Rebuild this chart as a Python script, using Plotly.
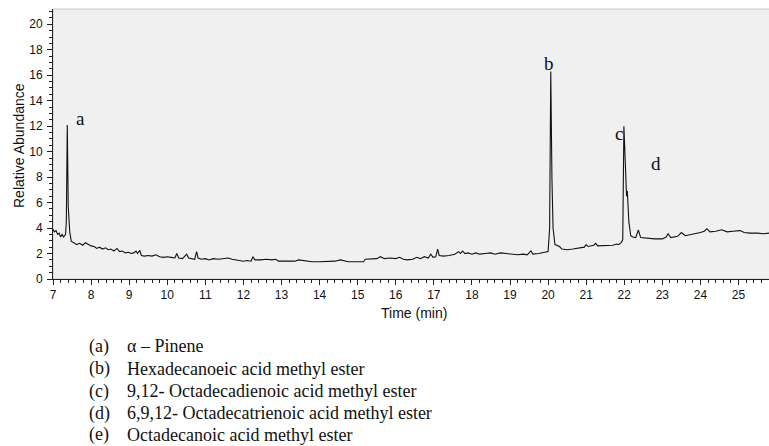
import plotly.graph_objects as go

# ---------------- data ----------------
time_min = [
    7.00, 7.04, 7.08, 7.12, 7.16, 7.20, 7.24, 7.28, 7.33, 7.35, 7.375, 7.40, 7.44, 7.48,
    7.55, 7.62, 7.70, 7.78, 7.85, 7.92, 8.00, 8.08, 8.15, 8.22, 8.30, 8.38, 8.45, 8.52,
    8.60, 8.68, 8.75, 8.82, 8.90, 8.98, 9.05, 9.12, 9.18, 9.22, 9.28, 9.32, 9.40, 9.50,
    9.60, 9.70, 9.80, 9.90, 10.00, 10.10, 10.20, 10.25, 10.30, 10.40, 10.51, 10.56, 10.65,
    10.72, 10.77, 10.81, 10.90, 11.00, 11.10, 11.20, 11.35, 11.50, 11.60, 11.70, 11.80,
    11.90, 12.00, 12.10, 12.20, 12.25, 12.30, 12.45, 12.60, 12.75, 12.85, 12.92, 13.10,
    13.25, 13.35, 13.45, 13.55, 13.65, 13.80, 14.00, 14.20, 14.40, 14.55, 14.65, 14.75,
    15.00, 15.15, 15.20, 15.35, 15.50, 15.60, 15.70, 15.85, 16.00, 16.10, 16.20, 16.30,
    16.45, 16.55, 16.65, 16.75, 16.85, 16.92, 16.98, 17.05, 17.10, 17.14, 17.25, 17.40,
    17.55, 17.65, 17.70, 17.75, 17.82, 17.90, 18.00, 18.10, 18.20, 18.35, 18.50, 18.60,
    18.75, 18.90, 19.05, 19.20, 19.35, 19.45, 19.55, 19.60, 19.75, 19.90, 20.00, 20.04,
    20.07, 20.10, 20.13, 20.18, 20.23, 20.30, 20.36, 20.50, 20.65, 20.80, 20.95, 21.00,
    21.05, 21.20, 21.25, 21.30, 21.50, 21.70, 21.80, 21.85, 21.92, 21.96, 21.99, 22.03,
    22.06, 22.08, 22.12, 22.17, 22.22, 22.30, 22.37, 22.43, 22.59, 22.80, 23.00, 23.10,
    23.15, 23.22, 23.40, 23.50, 23.60, 23.80, 24.00, 24.10, 24.17, 24.25, 24.40, 24.56,
    24.70, 24.85, 25.04, 25.15, 25.30, 25.50, 25.65, 25.80,
]
abundance = [
    3.9, 3.7, 3.8, 3.5, 3.6, 3.3, 3.5, 3.3, 3.5, 4.5, 12.1, 5.7, 3.7, 2.95,
    2.85, 2.7, 2.8, 2.65, 2.85, 2.7, 2.6, 2.55, 2.4, 2.5, 2.35, 2.45, 2.3, 2.35,
    2.2, 2.4, 2.15, 2.2, 2.05, 2.1, 2.0, 2.05, 2.2, 2.0, 2.25, 1.85, 1.8, 1.85,
    1.8, 1.9, 1.75, 1.7, 1.75, 1.7, 1.65, 2.0, 1.65, 1.6, 1.95, 1.65, 1.6,
    1.55, 2.15, 1.65, 1.55, 1.6, 1.5, 1.6, 1.55, 1.6, 1.65, 1.55, 1.5,
    1.45, 1.4, 1.45, 1.4, 1.75, 1.5, 1.5, 1.55, 1.5, 1.55, 1.4, 1.4,
    1.45, 1.4, 1.5, 1.45, 1.4, 1.35, 1.35, 1.35, 1.4, 1.5, 1.45, 1.35,
    1.35, 1.35, 1.55, 1.55, 1.6, 1.75, 1.6, 1.65, 1.6, 1.7, 1.55, 1.5,
    1.55, 1.7, 1.6, 1.75, 1.65, 1.95, 1.7, 1.75, 2.35, 1.85, 1.8, 1.85,
    1.95, 2.15, 2.0, 2.2, 2.0, 2.05, 1.95, 2.05, 1.95, 2.0, 2.05, 1.95,
    2.05, 2.0, 1.95, 1.9, 1.95, 1.9, 2.2, 1.95, 2.0, 2.1, 2.15, 4.0,
    16.3, 8.0, 4.0, 2.7, 2.65, 2.55, 2.35, 2.3, 2.35, 2.45, 2.5, 2.7,
    2.55, 2.65, 2.8, 2.6, 2.65, 2.65, 2.75, 2.7, 2.85, 3.1, 12.0, 8.0,
    6.5, 6.9, 4.5, 3.4, 3.3, 3.25, 3.85, 3.25, 3.2, 3.15, 3.15, 3.3,
    3.55, 3.25, 3.35, 3.65, 3.4, 3.5, 3.65, 3.75, 3.95, 3.7, 3.75, 3.87,
    3.7, 3.75, 3.8, 3.65, 3.6, 3.6, 3.55, 3.6,
]

peak_labels = ["a", "b", "c", "d"]
peak_label_time = [7.72, 20.02, 21.85, 22.84]
peak_label_abund = [12.6, 16.9, 11.4, 9.1]

x_ticks = list(range(7, 26))
y_ticks = list(range(0, 21, 2))

legend_keys = ["(a)", "(b)", "(c)", "(d)", "(e)"]
legend_names = [
    "α – Pinene",
    "Hexadecanoeic acid methyl ester",
    "9,12- Octadecadienoic acid methyl ester",
    "6,9,12- Octadecatrienoic acid methyl ester",
    "Octadecanoic acid methyl ester",
]

# ---------------- layout geometry (pixels) ----------------
W, H = 769, 446
L, R, T, B = 53, 0, 9, 167
PW, PH = W - L - R, H - T - B


def px(x):
    return (x - L) / PW


def py(y):
    return (H - B - y) / PH


NARROW = "Liberation Sans Narrow, Arial Narrow, sans-serif"
SERIF = "Liberation Serif, Times New Roman, serif"

fig = go.Figure()
fig.add_trace(go.Scatter(
    x=time_min, y=abundance, mode="lines",
    line=dict(color="#111111", width=1.1),
    hoverinfo="x+y", showlegend=False,
))

annotations = []
for lab, t, v in zip(peak_labels, peak_label_time, peak_label_abund):
    annotations.append(dict(
        x=t, y=v, xref="x", yref="y", text=lab, showarrow=False,
        font=dict(family=SERIF, size=19, color="#111111"),
        xanchor="center", yanchor="middle",
    ))

# axis titles
annotations.append(dict(
    x=px(414), y=py(313), xref="paper", yref="paper", text="Time (min)",
    showarrow=False, font=dict(family=NARROW, size=14, color="#111111"),
    xanchor="center", yanchor="middle",
))
annotations.append(dict(
    x=px(19), y=py(146), xref="paper", yref="paper", text="Relative Abundance",
    showarrow=False, textangle=-90,
    font=dict(family="Liberation Sans, Arial, sans-serif", size=14, color="#111111"),
    xanchor="center", yanchor="middle",
))

row_y = [346, 368.5, 391, 413, 434.5]
for key, name, yy in zip(legend_keys, legend_names, row_y):
    annotations.append(dict(
        x=px(87), y=py(yy), xref="paper", yref="paper", text=key,
        showarrow=False, font=dict(family=SERIF, size=18, color="#111111"),
        xanchor="left", yanchor="middle",
    ))
    annotations.append(dict(
        x=px(125), y=py(yy), xref="paper", yref="paper", text=name,
        showarrow=False, font=dict(family=SERIF, size=18, color="#111111"),
        xanchor="left", yanchor="middle",
    ))

fig.update_layout(
    width=W, height=H,
    margin=dict(l=L, r=R, t=T, b=B, pad=0),
    paper_bgcolor="white",
    plot_bgcolor="#f0f0f0",
    annotations=annotations,
    shapes=[dict(
        type="rect", xref="paper", yref="paper", x0=0, x1=1.002, y0=0, y1=1,
        line=dict(color="#c8c8c8", width=1), layer="below",
    )],
    xaxis=dict(
        range=[7, 25.8], tickmode="array", tickvals=x_ticks,
        ticktext=[str(v) for v in x_ticks],
        showgrid=False, zeroline=False,
        showline=True, linecolor="#222222", linewidth=1,
        ticks="outside", ticklen=5, tickcolor="#222222", tickwidth=1,
        minor=dict(dtick=0.2, ticks="outside", ticklen=3, tickcolor="#222222", showgrid=False),
        tickfont=dict(family=NARROW, size=12, color="#111111"),
    ),
    yaxis=dict(
        range=[0, 21.2], tickmode="array", tickvals=y_ticks,
        ticktext=[str(v) for v in y_ticks],
        showgrid=False, zeroline=False,
        showline=True, linecolor="#222222", linewidth=1,
        ticks="outside", ticklen=5, tickcolor="#222222", tickwidth=1,
        minor=dict(dtick=0.5, ticks="outside", ticklen=3, tickcolor="#222222", showgrid=False),
        tickfont=dict(family=NARROW, size=12, color="#111111"),
        ticklabelstandoff=2,
    ),
)

fig.write_html("out.html")
